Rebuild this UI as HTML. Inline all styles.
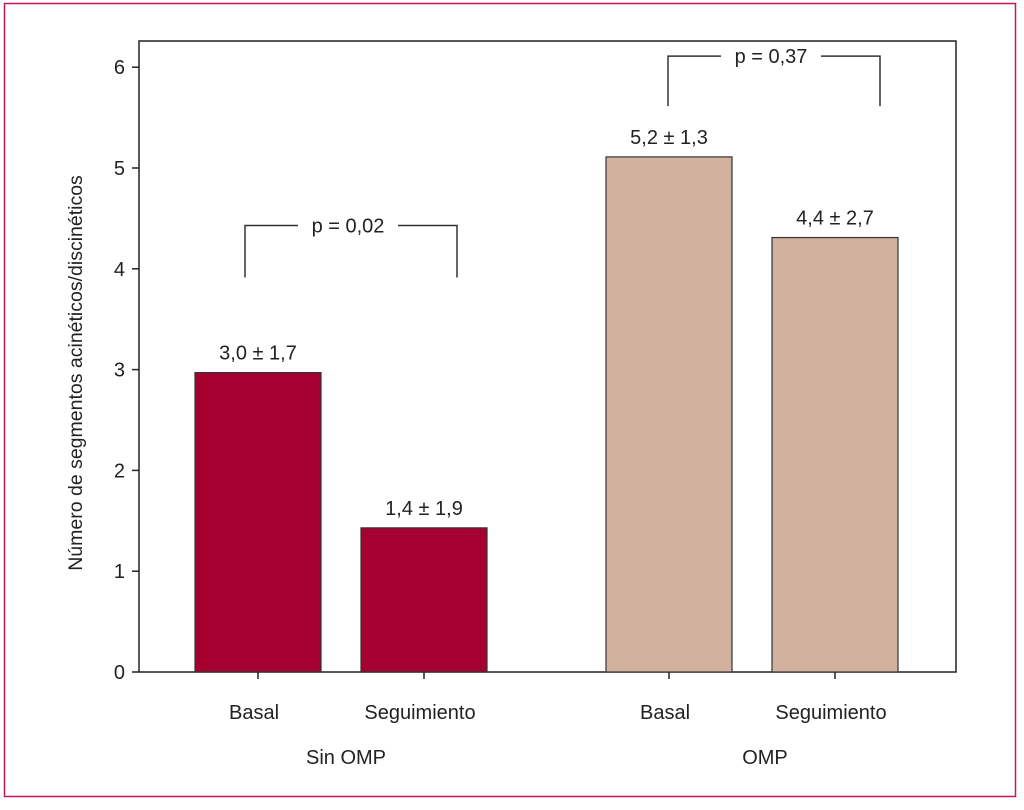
<!DOCTYPE html>
<html><head><meta charset="utf-8"><style>
html,body{margin:0;padding:0;background:#fff;}
svg text{font-family:"Liberation Sans Narrow","Liberation Sans",sans-serif;fill:#222;}
</style></head><body>
<svg width="1024" height="805" xmlns="http://www.w3.org/2000/svg">
<rect x="4.5" y="3.5" width="1011" height="793" fill="none" stroke="#c8174a" stroke-width="1.5"/>
<g id="g"></g>
</svg>
<script>
const categories=["Basal","Seguimiento","Basal","Seguimiento"];
const groups=["Sin OMP","OMP"];
const values=[2.97,1.43,5.11,4.31];
const valueLabels=["3,0 \u00b1 1,7","1,4 \u00b1 1,9","5,2 \u00b1 1,3","4,4 \u00b1 2,7"];
const yTicks=[0,1,2,3,4,5,6];
const pLabels=["p = 0,02","p = 0,37"];
const pLevels=[4.43,6.11];
const NS="http://www.w3.org/2000/svg";
const g=document.getElementById('g');
const L=139,R=956,T=41,B=672;
const y=v=>B-v*100.8;
const barX=[195,361,606,772],bw=126;
const colors=["#a50030","#a50030","#d2b29e","#d2b29e"];
const brL=[-13,-1],brR=[33,45],brH=[52,50];
function mk(t,a,p){const e=document.createElementNS(NS,t);for(const k in a)e.setAttribute(k,a[k]);(p||g).appendChild(e);return e;}
const frame=mk('rect',{x:L,y:T,width:R-L,height:B-T,fill:'none',stroke:'#222','stroke-width':1.5});


yTicks.forEach(t=>{
 const ln=mk('line',{x1:L-7,x2:L,y1:y(t),y2:y(t),stroke:'#222','stroke-width':1.5});
 
 
 const tx=mk('text',{x:L-14,y:y(t)+7,'text-anchor':'end','font-size':20});tx.textContent=t;
 
 
});
const yt=mk('text',{transform:'translate(82,373) rotate(-90)','text-anchor':'middle','font-size':19.5});
yt.textContent="Número de segmentos acinéticos/discinéticos";


values.forEach((v,i)=>{
 const r=mk('rect',{x:barX[i],y:y(v),width:bw,height:B-y(v),fill:colors[i],stroke:'#333','stroke-width':1.2});
 
 
 const cx=barX[i]+bw/2;
 const lb=mk('text',{x:cx,y:y(v)-13,'text-anchor':'middle','font-size':20});lb.textContent=valueLabels[i];
 
 
 const tk=mk('line',{x1:cx,x2:cx,y1:B,y2:B+7,stroke:'#222','stroke-width':1.5});
 
 
 const cl=mk('text',{x:cx-4,y:719,'text-anchor':'middle','font-size':20});cl.textContent=categories[i];
 
 
});
[0,1].forEach(k=>{
 const x1=barX[2*k]+bw/2+brL[k],x2=barX[2*k+1]+bw/2+brR[k],cx=(x1+x2)/2,yl=y(pLevels[k]),yb=yl+brH[k];
 const p=mk('path',{d:`M${x1},${yb}V${yl}H${cx-53}M${cx+47},${yl}H${x2}V${yb}`,fill:'none',stroke:'#333','stroke-width':1.5});
 
 
 const pt=mk('text',{x:cx-3,y:yl+7,'text-anchor':'middle','font-size':20});pt.textContent=pLabels[k];
 
 
 const gl=mk('text',{x:k?765:346,y:764,'text-anchor':'middle','font-size':20});gl.textContent=groups[k];
 
 
});
</script>
</body></html>
